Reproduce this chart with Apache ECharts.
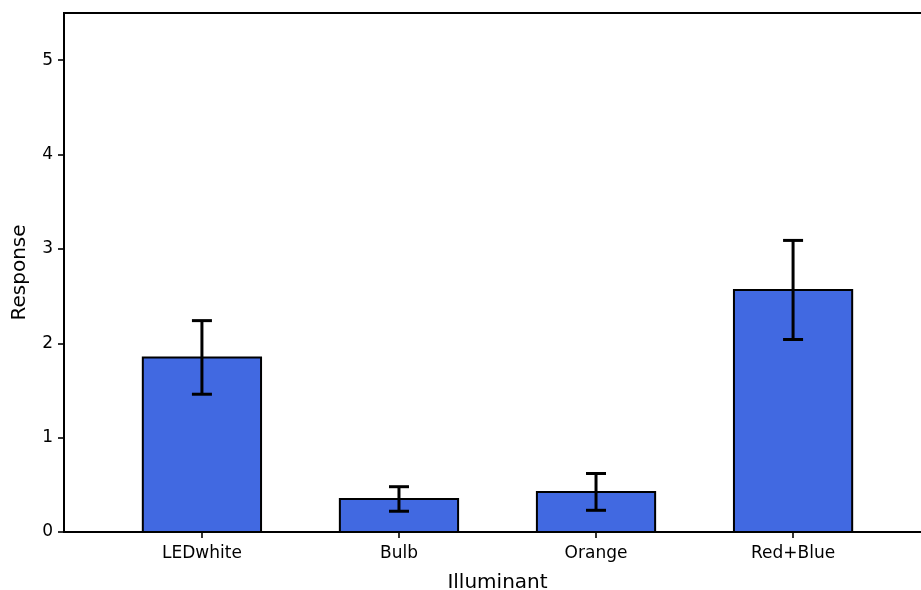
<!DOCTYPE html>
<html>
<head>
<meta charset="utf-8">
<script src="https://cdn.jsdelivr.net/npm/echarts@6/dist/echarts.min.js"></script>
<style>html,body{margin:0;padding:0;background:#fff}#c{width:921px;height:590px}</style>
</head>
<body>
<div id="c"></div>
<script>
const categories = ['LEDwhite', 'Bulb', 'Orange', 'Red+Blue'];
const means = [1.85, 0.35, 0.425, 2.565];
const errors = [0.39, 0.13, 0.195, 0.525];
const yTicks = [0, 1, 2, 3, 4, 5];

const FONT = 'DejaVu Sans';
const positions = categories.map((c, i) => i);
const barData = positions.map((x, i) => [x, means[i]]);
const errData = positions.map((x, i) => [x, means[i] - errors[i], means[i] + errors[i]]);

const chart = echarts.init(document.getElementById('c'), null, {renderer: 'canvas'});
chart.setOption({
  animation: false,
  backgroundColor: '#fff',
  grid: {left: 64, right: -10, top: 13, bottom: 58, outerBoundsMode: 'none', containLabel: false,
    show: true, borderColor: '#000', borderWidth: 2, backgroundColor: 'transparent'},
  xAxis: {
    type: 'value', min: -0.7, max: 3.7,
    name: 'Illuminant', nameLocation: 'middle', nameGap: 41,
    nameTextStyle: {fontFamily: FONT, fontSize: 20, color: '#000'},
    axisLine: {show: true, onZero: false, lineStyle: {color: '#000', width: 2}},
    axisTick: {show: true, customValues: positions, length: 6, lineStyle: {color: '#000', width: 1.6}},
    axisLabel: {customValues: positions, margin: 13, fontFamily: FONT, fontSize: 17, color: '#000',
      formatter: v => categories[Math.round(v)]},
    splitLine: {show: false}
  },
  yAxis: {
    type: 'value', min: 0, max: 5.5,
    name: 'Response', nameLocation: 'middle', nameGap: 34, nameRotate: 90,
    nameTextStyle: {fontFamily: FONT, fontSize: 20, color: '#000'},
    axisLine: {show: true, onZero: false, lineStyle: {color: '#000', width: 2}},
    axisTick: {show: true, customValues: yTicks, length: 6, lineStyle: {color: '#000', width: 1.6}},
    axisLabel: {customValues: yTicks, margin: 11, fontFamily: FONT, fontSize: 17, color: '#000'},
    splitLine: {show: false}
  },
  series: [
    {
      type: 'custom',
      data: barData,
      encode: {x: 0, y: 1},
      renderItem: function (params, api) {
        const x = api.value(0), v = api.value(1);
        const p0 = api.coord([x - 0.3, v]);
        const p1 = api.coord([x + 0.3, 0]);
        return {
          type: 'rect',
          shape: {x: p0[0], y: p0[1], width: p1[0] - p0[0], height: p1[1] - p0[1]},
          style: {fill: '#4169E1', stroke: '#000', lineWidth: 2}
        };
      },
      z: 2
    },
    {
      type: 'custom',
      data: errData,
      encode: {x: 0, y: [1, 2]},
      renderItem: function (params, api) {
        const x = api.value(0);
        const lo = api.coord([x, api.value(1)]);
        const hi = api.coord([x, api.value(2)]);
        const cap = 10;
        const st = {stroke: '#000', lineWidth: 3};
        return {
          type: 'group',
          children: [
            {type: 'line', shape: {x1: lo[0], y1: lo[1], x2: hi[0], y2: hi[1]}, style: st},
            {type: 'line', shape: {x1: lo[0] - cap, y1: lo[1], x2: lo[0] + cap, y2: lo[1]}, style: st},
            {type: 'line', shape: {x1: hi[0] - cap, y1: hi[1], x2: hi[0] + cap, y2: hi[1]}, style: st}
          ]
        };
      },
      z: 3
    }
  ]
});
</script>
</body>
</html>
